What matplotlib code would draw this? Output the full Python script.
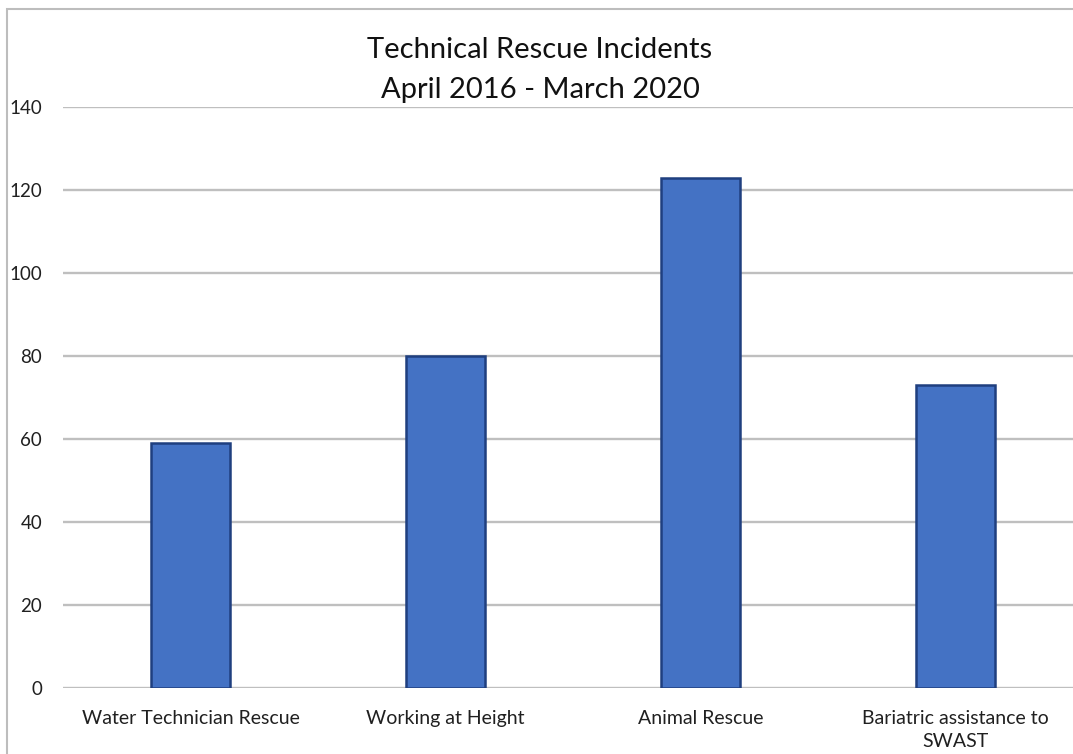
import numpy as np
import matplotlib.pyplot as plt
from matplotlib.patches import Rectangle

plt.rcParams['font.family'] = ['Lato', 'DejaVu Sans']

categories = ["Water Technician Rescue", "Working at Height", "Animal Rescue",
              "Bariatric assistance to\nSWAST"]
incidents = [59, 80, 123, 73]
yticks = [0, 20, 40, 60, 80, 100, 120, 140]

W, H = 1073, 754
fig = plt.figure(figsize=(W / 100, H / 100), dpi=100)

# outer chart border (right and bottom edges are cut off in the original)
fig.patches.append(Rectangle((7 / W, -0.1), 1.2, 1 - 9 / H + 0.1,
                             transform=fig.transFigure, fill=False,
                             edgecolor='#BDBDBD', linewidth=1.5))

ax = fig.add_axes([63 / W, 66 / H, 1020 / W, 581 / H])
x = np.arange(len(categories))
ax.bar(x, incidents, width=0.31, color='#4472C4', edgecolor='#1F3F7F',
       linewidth=1.8, zorder=3)

ax.set_xlim(-0.5, len(categories) - 0.5)
ax.set_ylim(0, 140)
ax.set_yticks(yticks)
ax.set_xticks(x)
ax.set_xticklabels(categories, linespacing=1.4)
ax.yaxis.grid(True, color='#BFBFBF', linewidth=1.7, zorder=0)
for s in ax.spines.values():
    s.set_visible(False)
ax.tick_params(axis='both', length=0, colors='#202020')
ax.tick_params(axis='x', labelsize=14, pad=16)
ax.tick_params(axis='y', labelsize=13.5, pad=15)

fig.text(540 / W, 1 - 50 / H, "Technical Rescue Incidents", ha='center',
         va='center', fontsize=21, color='#111111')
fig.text(540 / W, 1 - 90 / H, "April 2016 - March 2020", ha='center',
         va='center', fontsize=21, color='#111111')

fig.savefig('out.png', dpi=100)
